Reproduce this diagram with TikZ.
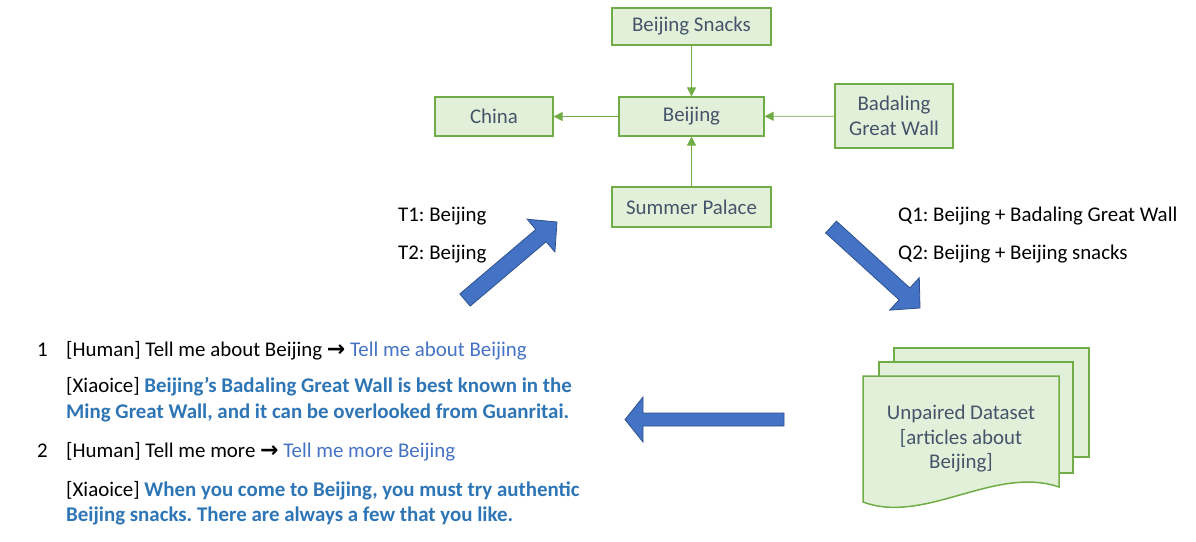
\documentclass[tikz,border=0pt]{standalone}
\usepackage{fontspec}
\setmainfont{Carlito}
\newfontfamily\dejavu{DejaVu Sans}
\usetikzlibrary{calc,arrows.meta}
\definecolor{gline}{HTML}{70AD47}
\definecolor{gfill}{HTML}{E2F0D9}
\definecolor{ntext}{HTML}{44546A}
\definecolor{bfill}{HTML}{4472C4}
\definecolor{bline}{HTML}{2F528F}
\definecolor{resp}{HTML}{2E75B6}
\definecolor{query}{HTML}{4472C4}
\newcommand{\rarr}{{\dejavu\bfseries\fontsize{22}{20}\selectfont →}}
\newcommand{\blockarr}[5]{%
  \coordinate (ba) at ($(#2)!#5!(#1)$);
  \draw[barrow] ($(#1)!#3!90:(#2)$) -- ($(ba)!#3!-90:(#1)$) -- ($(ba)!#4!-90:(#1)$) -- (#2)
     -- ($(ba)!#4!90:(#1)$) -- ($(ba)!#3!90:(#1)$) -- ($(#1)!#3!-90:(#2)$) -- cycle;}
\frenchspacing
\begin{document}
\frenchspacing
\begin{tikzpicture}[x=1pt,y=-1pt,
  every node/.style={font=\fontsize{20.9}{24.5}\selectfont},
  ent/.style={draw=gline, fill=gfill, line width=1.2pt, text=ntext, inner sep=0pt, align=center},
  rel/.style={draw=gline, line width=0.8pt, -{Triangle[length=9pt,width=9pt]}},
  barrow/.style={fill=bfill, draw=bline, line width=0.8pt, line join=miter},
  doc/.style={draw=gline, fill=gfill, line width=1.5pt},
  txt/.style={anchor=base west, inner sep=0pt},
  resptxt/.style={txt, text=resp, font=\fontsize{20.9}{24.5}\selectfont\bfseries}]
\useasboundingbox (0,0) rectangle (1196,541);
% knowledge graph
\node[ent, minimum width=159pt, minimum height=37pt] (snacks) at (691.5,26.5) {Beijing Snacks};
\node[ent, minimum width=145pt, minimum height=39pt] (beijing) at (691.5,116.5) {Beijing};
\node[ent, minimum width=118pt, minimum height=39pt] (china) at (494,116.5) {China};
\node[ent, minimum width=118pt, minimum height=64pt] (badaling) at (894,116) {Badaling\\Great Wall};
\node[ent, minimum width=159pt, minimum height=40pt] (summer) at (691.5,207) {Summer Palace};
\draw[rel] (snacks) -- (beijing);
\draw[rel] (beijing) -- (china);
\draw[rel] (badaling) -- (beijing);
\draw[rel] (summer) -- (beijing);
% labels
\node[txt] (t1) at (398,221) {T1: Beijing};
\node[txt] (t2) at (398,259) {T2: Beijing};
\node[txt] (q1) at (898,221) {Q1: Beijing + Badaling Great Wall};
\node[txt] (q2) at (898,259) {Q2: Beijing + Beijing snacks};
% block arrows
\coordinate (a1t) at (465,300); \coordinate (a1h) at (557,222);
\coordinate (a2t) at (831,227); \coordinate (a2h) at (920,308);
\coordinate (a3t) at (784,419.5); \coordinate (a3h) at (625,419.5);
\blockarr{a1t}{a1h}{8pt}{21.5pt}{21pt}
\blockarr{a2t}{a2h}{8pt}{22pt}{21pt}
\blockarr{a3t}{a3h}{6.5pt}{22.5pt}{18pt}
% document stack
\draw[doc] (894,348) rectangle (1089,457);
\draw[doc] (879,362) rectangle (1073,473);
\draw[doc] (863,376) -- (1059,376) -- (1059,487) .. controls (995,465) and (925,525) .. (863,502) -- cycle;
\node[align=center, text=ntext, inner sep=0pt] (data) at (961,439) {Unpaired Dataset\\{[}articles about\\Beijing{]}};
% dialogue
\node[txt] (n1) at (37,356) {1};
\node[txt] (h1) at (66,356) {[Human] Tell me about Beijing \rarr{} \textcolor{query}{Tell me about Beijing}};
\node[txt] (x1) at (66,392) {[Xiaoice] \textcolor{resp}{\bfseries Beijing’s Badaling Great Wall is best known in the}};
\node[resptxt] (x1b) at (66,418) {Ming Great Wall, and it can be overlooked from Guanritai.};
\node[txt] (n2) at (37,457) {2};
\node[txt] (h2) at (66,457) {[Human] Tell me more \rarr{} \textcolor{query}{Tell me more Beijing}};
\node[txt] (x2) at (66,496) {[Xiaoice] \textcolor{resp}{\bfseries When you come to Beijing, you must try authentic}};
\node[resptxt] (x2b) at (66,521) {Beijing snacks. There are always a few that you like.};
\end{tikzpicture}
\end{document}
